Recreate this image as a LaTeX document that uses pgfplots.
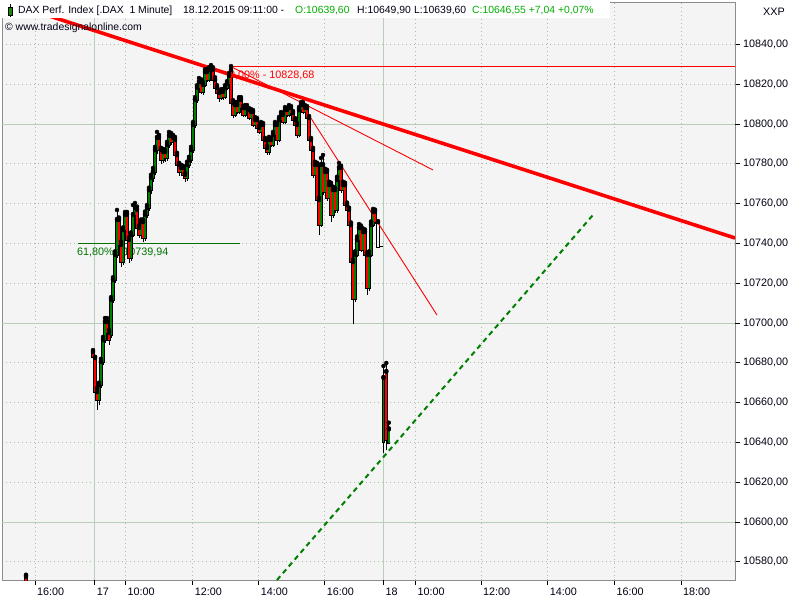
\documentclass[border=0pt]{standalone}
\usepackage{fontspec}
\setmainfont{Liberation Sans}
\usepackage{pgfplots}
\usepackage{pgfplotstable}
\pgfplotsset{compat=1.18}
\definecolor{plotbg}{RGB}{244,244,244}
\definecolor{gridc}{RGB}{165,190,165}
\definecolor{gridsolid}{RGB}{185,205,185}
\definecolor{axisgray}{RGB}{140,140,140}
\definecolor{cgreen}{RGB}{0,128,0}
\definecolor{cred}{RGB}{255,0,0}
\definecolor{hdrgreen}{RGB}{0,175,0}
\definecolor{fibgreen}{RGB}{0,115,0}
\definecolor{txt}{RGB}{0,0,20}

\pgfplotstableread{
x o h l c
26 10572.6 10573.5 10555.0 10560.0
93 10685.4 10686.4 10682.4 10682.9
95 10682.4 10683.0 10663.8 10665.3
97 10665.3 10667.3 10656.3 10661.3
99 10661.3 10670.0 10658.8 10668.8
101 10668.8 10682.0 10667.5 10680.4
103 10680.4 10693.0 10679.0 10691.4
105 10691.4 10702.5 10690.0 10700.5
107 10700.5 10702.5 10694.0 10695.0
109 10695.0 10696.5 10688.9 10691.4
111 10694.0 10713.0 10692.5 10711.6
113 10711.6 10723.0 10710.0 10721.6
115 10721.6 10736.0 10720.0 10734.2
117 10734.2 10756.8 10732.5 10751.8
119 10751.8 10753.0 10737.5 10739.2
121 10739.2 10741.0 10728.1 10730.6
123 10730.6 10748.0 10729.0 10746.7
125 10746.7 10755.8 10745.0 10754.3
127 10754.3 10755.8 10740.0 10741.7
129 10741.7 10743.0 10730.1 10732.7
131 10732.7 10745.5 10731.0 10744.2
133 10744.2 10759.3 10743.0 10754.3
135 10754.3 10760.3 10752.5 10757.8
137 10756.8 10758.5 10746.0 10747.7
139 10747.7 10749.0 10742.5 10744.2
141 10744.2 10752.0 10743.0 10750.7
143 10750.7 10752.0 10740.7 10742.7
145 10742.7 10756.0 10741.0 10754.3
147 10754.3 10759.3 10753.0 10757.8
149 10757.8 10768.0 10756.5 10766.8
151 10766.8 10774.5 10765.0 10772.9
153 10772.9 10777.9 10771.0 10775.9
155 10775.9 10788.5 10774.5 10786.9
157 10786.9 10796.0 10785.0 10793.0
159 10793.0 10794.5 10785.0 10786.9
161 10786.9 10788.0 10779.9 10781.9
163 10781.9 10787.5 10780.5 10785.9
165 10785.9 10787.0 10781.0 10782.9
167 10782.9 10791.0 10781.5 10789.4
169 10789.4 10796.0 10788.0 10794.0
171 10794.0 10795.5 10789.5 10790.9
173 10790.9 10794.5 10789.5 10793.0
175 10792.0 10793.5 10783.0 10784.4
177 10784.4 10785.5 10778.0 10779.4
179 10779.4 10780.5 10773.9 10775.9
181 10775.9 10779.5 10774.5 10777.9
183 10777.9 10779.0 10773.0 10774.4
185 10774.4 10775.5 10770.8 10772.9
187 10772.9 10781.0 10771.5 10779.4
189 10779.4 10783.5 10778.0 10781.9
191 10781.9 10788.5 10780.5 10786.9
193 10786.9 10801.0 10785.5 10799.5
195 10799.5 10813.5 10798.0 10812.1
197 10812.1 10819.5 10810.5 10818.1
199 10818.1 10823.1 10817.0 10821.1
201 10821.1 10822.5 10815.0 10816.1
203 10816.1 10821.0 10814.5 10819.6
205 10819.6 10827.5 10818.5 10826.1
207 10826.1 10827.5 10821.0 10822.1
209 10822.1 10828.5 10821.0 10827.1
211 10827.1 10829.6 10826.0 10828.1
213 10827.1 10828.5 10821.0 10822.1
215 10822.1 10823.5 10817.0 10818.1
217 10818.1 10819.5 10814.5 10815.6
219 10815.6 10816.5 10811.0 10813.1
221 10813.1 10817.5 10812.0 10816.1
223 10816.1 10817.5 10812.1 10813.6
225 10813.6 10819.5 10812.5 10818.1
227 10818.1 10821.5 10817.0 10820.1
229 10820.1 10825.6 10819.0 10824.1
231 10827.1 10829.1 10809.5 10810.5
233 10810.5 10812.0 10803.0 10804.5
235 10804.5 10811.0 10803.5 10809.5
237 10809.5 10811.0 10805.0 10806.0
239 10806.0 10813.5 10805.0 10812.1
241 10812.1 10813.5 10807.0 10808.0
243 10808.0 10809.0 10803.5 10804.5
245 10804.5 10809.5 10803.5 10808.0
247 10808.0 10809.5 10806.0 10807.0
249 10807.0 10808.0 10802.0 10803.0
251 10803.0 10807.5 10802.0 10806.0
253 10806.0 10807.0 10798.5 10799.5
255 10799.5 10803.5 10798.5 10802.0
257 10802.0 10803.0 10797.0 10798.0
259 10798.0 10799.0 10795.0 10796.0
261 10796.0 10801.0 10795.0 10799.5
263 10799.5 10800.5 10791.0 10792.0
265 10792.0 10793.0 10787.0 10787.9
267 10787.9 10789.0 10784.4 10785.9
269 10785.9 10793.5 10784.5 10792.0
271 10792.0 10793.0 10788.5 10789.4
273 10789.4 10796.0 10788.5 10794.5
275 10794.5 10801.0 10793.5 10799.5
277 10799.5 10800.5 10789.4 10792.0
279 10792.0 10803.5 10791.0 10802.0
281 10802.0 10806.0 10801.0 10804.5
283 10804.5 10805.5 10800.0 10801.0
285 10801.0 10808.5 10800.0 10807.0
287 10807.0 10808.0 10803.5 10804.5
289 10804.5 10809.5 10803.5 10808.0
291 10808.0 10809.0 10804.5 10805.5
293 10805.5 10806.5 10801.0 10802.0
295 10802.0 10803.0 10798.5 10799.5
297 10799.5 10800.5 10793.0 10794.5
299 10794.5 10808.5 10793.5 10807.0
301 10807.0 10811.0 10806.0 10809.5
303 10809.5 10811.0 10805.0 10806.0
305 10806.0 10809.5 10805.0 10808.0
307 10808.0 10809.0 10802.0 10803.0
309 10803.0 10804.0 10791.0 10792.0
311 10792.0 10793.0 10786.0 10786.9
313 10786.9 10788.0 10772.9 10774.4
315 10774.4 10781.0 10773.5 10779.4
317 10779.4 10780.5 10760.5 10761.8
319 10761.8 10763.0 10744.2 10749.2
321 10749.2 10782.9 10748.0 10779.4
323 10779.4 10784.4 10764.5 10765.8
325 10765.8 10777.5 10764.5 10775.9
327 10775.9 10777.0 10761.5 10762.8
329 10762.8 10771.0 10761.5 10769.3
331 10769.3 10770.5 10750.7 10754.3
333 10754.3 10768.5 10753.0 10766.8
335 10766.8 10768.0 10755.5 10756.8
337 10756.8 10773.5 10755.5 10771.9
339 10771.9 10780.4 10770.5 10777.9
341 10777.9 10779.0 10765.5 10766.8
343 10766.8 10771.0 10765.5 10769.3
345 10769.3 10770.5 10758.0 10759.3
347 10759.3 10760.5 10755.5 10756.8
349 10756.8 10758.0 10748.0 10749.2
351 10749.2 10750.5 10729.0 10730.6
353 10730.6 10732.0 10699.5 10712.0
355 10712.0 10736.0 10710.5 10734.2
357 10734.2 10743.5 10733.0 10741.7
359 10741.7 10749.7 10740.5 10747.7
361 10747.7 10749.0 10735.5 10736.7
363 10736.7 10747.5 10735.5 10745.7
365 10745.7 10747.0 10733.0 10734.2
367 10734.2 10735.5 10714.1 10717.6
369 10717.6 10736.0 10716.0 10734.2
371 10734.2 10751.0 10733.0 10749.2
373 10749.2 10757.3 10748.0 10755.8
375 10755.8 10757.0 10749.5 10750.7
383.5 10640.2 10678.4 10634.7 10672.4
386.3 10675.4 10679.9 10636.2 10641.2
388.8 10639.6 10649.9 10639.6 10646.55
}\candles

\pgfplotstableread{
x o h l c
378 10750.7 10751.0 10738.0 10738.2
}\hollow

\begin{document}
\begin{tikzpicture}[font=\fontsize{10.8}{12}\selectfont]
\useasboundingbox (0,0) rectangle (800pt,600pt);
\fill[white] (0,0) rectangle (800pt,600pt);
\begin{axis}[
  at={(2pt,20pt)}, anchor=south west,
  scale only axis, width=733pt, height=578pt,
  xmin=2, xmax=735, ymin=10570.85, ymax=10861.3,
  axis background/.style={fill=plotbg},
  axis line style={draw=axisgray, line width=0.9pt},
  tick align=outside,
  major tick length=5pt,
  every tick/.style={black, line width=0.7pt},
  xtick pos=bottom, ytick pos=right, yticklabel pos=right,
  scaled y ticks=false, scaled x ticks=false,
  ytick={10580,10600,...,10840},
  yticklabel={\pgfmathprintnumber[fixed, fixed zerofill, precision=2, use comma, 1000 sep={}, assume math mode=true]{\tick}},
  yticklabel style={anchor=west, inner sep=0pt, xshift=3pt, text=txt},
  xtick={35,125.3,192.7,258.7,324.7,415.3,481,547.7,614.3,681},
  xticklabels={16:00,10:00,12:00,14:00,16:00,10:00,12:00,14:00,16:00,18:00},
  xticklabel style={anchor=north west, inner sep=0pt, xshift=2pt, yshift=-3pt, text=txt},
  extra x ticks={94.7,383.3},
  extra x tick labels={17,18},
  extra x tick style={grid=major, major grid style={solid, draw=gridsolid, line width=0.9pt}},
  extra y ticks={10600,10700,10800},
  extra y tick labels={},
  extra y tick style={grid=major, major grid style={solid, draw=gridsolid, line width=0.9pt}},
  grid=major,
  major grid style={draw=gridc, line width=0.8pt, dash pattern=on 1pt off 3pt},
  clip=true,
]
% fib lines and labels (behind candles)
\addplot[fibgreen, line width=1pt, forget plot] coordinates {(78,10739.94) (240,10739.94)};
\addplot[cred, line width=1pt, forget plot] coordinates {(230,10828.68) (735,10828.68)};
\node[anchor=west, inner sep=0pt, text=fibgreen] at (axis cs:77,10735.7) {61,80\% - 10739,94};
\node[anchor=west, inner sep=0pt, text=cred] at (axis cs:229,10824.6) {0,00\% - 10828,68};
% wicks
\addplot[only marks, mark=none, forget plot,
  error bars/.cd, y dir=minus, y explicit, error mark=none,
  error bar style={black, line width=1pt}]
  table[x=x, y=h, y error minus expr={\thisrow{h}-\thisrow{l}}] {\candles};
% black bodies
\addplot[only marks, mark=none, forget plot,
  error bars/.cd, y dir=minus, y explicit, error mark=none,
  error bar style={black, line width=3.2pt}]
  table[x=x, y expr={max(\thisrow{o},\thisrow{c})+0.5}, y error minus expr={abs(\thisrow{o}-\thisrow{c})+1}] {\candles};
% green fill
\addplot[only marks, mark=none, forget plot,
  restrict expr to domain={\thisrow{c}-\thisrow{o}}{0:1000},
  error bars/.cd, y dir=minus, y explicit, error mark=none,
  error bar style={cgreen, line width=1.8pt}]
  table[x=x, y expr={max(\thisrow{o},\thisrow{c})}, y error minus expr={abs(\thisrow{o}-\thisrow{c})}] {\candles};
% red fill
\addplot[only marks, mark=none, forget plot,
  restrict expr to domain={\thisrow{c}-\thisrow{o}}{-1000:-0.001},
  error bars/.cd, y dir=minus, y explicit, error mark=none,
  error bar style={cred, line width=1.8pt}]
  table[x=x, y expr={max(\thisrow{o},\thisrow{c})}, y error minus expr={abs(\thisrow{o}-\thisrow{c})}] {\candles};
% hollow bar
\addplot[only marks, mark=none, forget plot,
  error bars/.cd, y dir=minus, y explicit, error mark=none,
  error bar style={black, line width=4.4pt}]
  table[x=x, y expr={\thisrow{o}+0.5}, y error minus expr={\thisrow{o}-\thisrow{c}+1}] {\hollow};
\addplot[only marks, mark=none, forget plot,
  error bars/.cd, y dir=minus, y explicit, error mark=none,
  error bar style={plotbg, line width=2.4pt}]
  table[x=x, y=o, y error minus expr={\thisrow{o}-\thisrow{c}}] {\hollow};
\addplot[black, line width=1pt, forget plot] coordinates {(380,10738.2) (383,10738.2)};
% trend lines
\addplot[cred, line width=3.6pt, forget plot] coordinates {(0,10862.3) (735,10742.7)};
\addplot[cred, line width=0.9pt, forget plot] coordinates {(230,10829.1) (433,10776.9)};
\addplot[cred, line width=0.9pt, forget plot] coordinates {(300,10811.5) (437,10704.0)};
\addplot[cgreen, line width=2pt, dash pattern=on 5pt off 4pt, forget plot] coordinates {(277,10570.85) (593,10754.3)};
\end{axis}
% header
\fill[white] (2pt,582pt) rectangle (610pt,598.5pt);
\draw[black, line width=0.8pt] (10.5pt,583pt) -- (10.5pt,596pt);
\filldraw[fill=cgreen!90!lime, draw=black, line width=0.8pt] (8.5pt,585pt) rectangle (12.5pt,593pt);
\begin{scope}[font=\fontsize{10.4}{12}\selectfont]
\node[anchor=base west, inner sep=0pt, text=txt] at (18pt,586pt) {DAX Perf. Index [.DAX\ \ 1 Minute]};
\node[anchor=base west, inner sep=0pt, text=txt] at (183pt,586pt) {18.12.2015 09:11:00 -};
\node[anchor=base west, inner sep=0pt, text=hdrgreen] at (295pt,586pt) {O:10639,60};
\node[anchor=base west, inner sep=0pt, text=txt] at (357pt,586pt) {H:10649,90};
\node[anchor=base west, inner sep=0pt, text=txt] at (414pt,586pt) {L:10639,60};
\node[anchor=base west, inner sep=0pt, text=hdrgreen] at (472pt,586pt) {C:10646,55 +7,04 +0,07\%};
\node[anchor=base west, inner sep=0pt, text=txt] at (5pt,569pt) {© www.tradesignalonline.com};
\end{scope}
\node[anchor=base west, inner sep=0pt, text=txt] at (763pt,584pt) {XXP};
\end{tikzpicture}
\end{document}
